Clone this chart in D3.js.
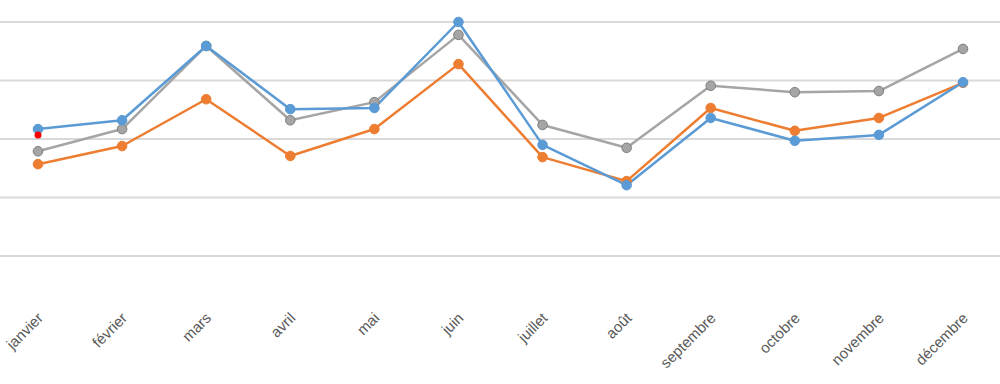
<!DOCTYPE html>
<html><head><meta charset="utf-8">
<script src="https://cdn.jsdelivr.net/npm/d3@7"></script>
<style>body{margin:0;background:#fff}svg{display:block}</style>
</head><body>
<svg id="c" width="1000" height="384"></svg>
<script>
const months = ["janvier","février","mars","avril","mai","juin","juillet","août","septembre","octobre","novembre","décembre"];
const seriesBlue   = [21.7,23.2,35.9,25.1,25.3,40.0,19.0,12.1,23.6,19.7,20.7,29.7];
const seriesOrange = [15.7,18.8,26.8,17.1,21.7,32.8,16.9,12.8,25.3,21.4,23.6,29.6];
const seriesGray   = [17.9,21.7,35.9,23.2,26.3,37.8,22.4,18.5,29.1,28.0,28.2,35.4];
const highlightPoint = {month:"janvier", value:20.7};
const gridTicks = [0,10,20,30,40];

const svg = d3.select("#c");
const x = d3.scalePoint().domain(months).range([38,963]);
const y = d3.scaleLinear().domain([0,40]).range([256,22]);

svg.append("g").selectAll("line").data(gridTicks).join("line")
  .attr("x1",0).attr("x2",1000)
  .attr("y1",d=>y(d)).attr("y2",d=>y(d))
  .attr("stroke","#d9d9d9").attr("stroke-width",2);

const series = [
  {vals:seriesGray, color:"#a5a5a5", stroke:"#7f7f7f"},
  {vals:seriesOrange, color:"#ed7d31", stroke:"#ed7d31"},
  {vals:seriesBlue, color:"#5b9bd5", stroke:"#5b9bd5"}
];
const line = d3.line().x((d,i)=>x(months[i])).y(d=>y(d));
series.forEach(s=>{
  svg.append("path").datum(s.vals).attr("d",line)
    .attr("fill","none").attr("stroke",s.color).attr("stroke-width",2.5)
    .attr("stroke-linejoin","round");
});
series.forEach(s=>{
  svg.append("g").selectAll("circle").data(s.vals).join("circle")
    .attr("cx",(d,i)=>x(months[i])).attr("cy",d=>y(d)).attr("r",4.8)
    .attr("fill",s.color).attr("stroke",s.stroke).attr("stroke-width",1);
});
svg.append("circle").attr("cx",x(highlightPoint.month)).attr("cy",y(highlightPoint.value))
  .attr("r",3.5).attr("fill","#ff0000");

svg.append("g").selectAll("text").data(months).join("text")
  .attr("transform",d=>`translate(${x(d)+6},319) rotate(-45)`)
  .attr("text-anchor","end")
  .attr("font-family","Liberation Sans, Arial, sans-serif")
  .attr("font-size",15).attr("fill","#595959")
  .text(d=>d);
</script>
</body></html>
